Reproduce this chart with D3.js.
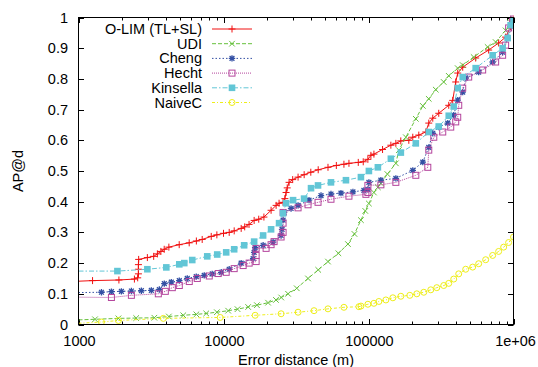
<!DOCTYPE html>
<html>
<head>
<meta charset="utf-8">
<script src="https://cdn.jsdelivr.net/npm/d3@7"></script>
<style>
  html, body { margin: 0; padding: 0; background: #fff; }
  svg { display: block; font-family: "Liberation Sans", Arial, Helvetica, sans-serif; }
</style>
</head>
<body>
<div id="chart"></div>
<script>
const width = 538;
const height = 367;

// Axis ticks
const xTicks = [1000, 10000, 100000, 1000000];
const xTickLabels = ["1000", "10000", "100000", "1e+06"];
const yTicks = [0, 0.1, 0.2, 0.3, 0.4, 0.5, 0.6, 0.7, 0.8, 0.9, 1];
const yTickLabels = ["0", "0.1", "0.2", "0.3", "0.4", "0.5", "0.6", "0.7", "0.8", "0.9", "1"];

const seriesNames = ["O-LIM (TL+SL)", "UDI", "Cheng", "Hecht", "Kinsella", "NaiveC"];

// O-LIM (TL+SL)
const olimDist = [1000, 1250, 1900, 2430, 2560, 2590, 2590, 2590, 2600, 2985, 3300, 3500, 3700, 3900,
    4200, 4950, 5800, 6500, 7130, 8230, 9000, 10000, 10950, 11850, 13240, 14000, 15000, 16270, 17500,
    19000, 21290, 23060, 24170, 25760, 26500, 27010, 27500, 28330, 30000, 32680, 36000, 40000, 45000,
    52560, 60000, 67700, 73310, 85000, 92000, 99000, 103900, 109000, 125000, 142650, 154400, 167000,
    189700, 202000, 222300, 248300, 260400, 277500, 305100, 357600, 381000, 399500, 412400, 446400,
    548500, 674100, 789900, 882300, 955000, 1000000];
const olimAP = [0.141, 0.143, 0.145, 0.148, 0.152, 0.165, 0.18, 0.195, 0.212, 0.218, 0.222, 0.23, 0.238, 0.245,
    0.252, 0.26, 0.266, 0.272, 0.277, 0.287, 0.292, 0.297, 0.30, 0.305, 0.313, 0.318, 0.326, 0.339, 0.343,
    0.35, 0.372, 0.388, 0.395, 0.398, 0.41, 0.43, 0.445, 0.463, 0.472, 0.48, 0.488, 0.496, 0.504,
    0.512, 0.518, 0.522, 0.525, 0.528, 0.53, 0.538, 0.551, 0.555, 0.57, 0.584, 0.59, 0.598,
    0.60, 0.61, 0.617, 0.627, 0.656, 0.672, 0.688, 0.714, 0.73, 0.79, 0.819, 0.838,
    0.868, 0.894, 0.917, 0.936, 0.97, 0.995];

// UDI
const udiDist = [1000, 1300, 1885, 2500, 3335, 4200, 5280, 6500, 7600, 9000, 10770, 12500, 14790, 17000,
    20300, 23000, 25000, 27880, 32000, 38280, 45000, 52560, 62000, 72150, 80000, 88660, 95000, 100600,
    108900, 116000, 121700, 135000, 154400, 162000, 181000, 212000, 237000, 260400, 291000, 330000,
    357600, 412400, 446400, 531400, 663400, 753000, 882300, 955000, 1000000];
const udiAP = [0.015, 0.017, 0.02, 0.021, 0.022, 0.026, 0.03, 0.033, 0.036, 0.04, 0.045, 0.05, 0.057, 0.063,
    0.071, 0.08, 0.088, 0.10, 0.118, 0.15, 0.178, 0.205, 0.232, 0.262, 0.295, 0.34, 0.37, 0.394,
    0.43, 0.447, 0.46, 0.49, 0.525, 0.568, 0.61, 0.67, 0.712, 0.735, 0.765, 0.79,
    0.81, 0.835, 0.845, 0.871, 0.904, 0.92, 0.958, 0.985, 0.995];

// Cheng
const chengDist = [1000, 1440, 1687, 1976, 2316, 2714, 3180, 3610, 3907, 4365, 4956, 5626, 6490, 7366,
    8360, 9643, 10946, 13236, 16010, 16268, 16529, 18760, 21980, 24960, 25350, 25760, 26170, 29240,
    32680, 38890, 47040, 55110, 64570, 78100, 92970, 99060, 100640, 121730, 154400, 202050, 236800,
    260400, 277530, 305100, 351980, 387110, 412420, 446400, 468180, 575250, 718270, 841400, 910760,
    985800, 1000000];
const chengAP = [0.104, 0.105, 0.107, 0.108, 0.109, 0.11, 0.111, 0.114, 0.133, 0.138, 0.143, 0.15, 0.156, 0.16,
    0.165, 0.17, 0.18, 0.2, 0.215, 0.235, 0.25, 0.258, 0.268, 0.29, 0.31, 0.34, 0.365, 0.378,
    0.388, 0.405, 0.42, 0.425, 0.428, 0.432, 0.437, 0.44, 0.463, 0.47, 0.476, 0.502, 0.529,
    0.577, 0.623, 0.643, 0.656, 0.682, 0.731, 0.757, 0.803, 0.822, 0.855, 0.887, 0.933,
    0.975, 0.99];

// Hecht
const hechtDist = [1000, 1687, 2316, 3553, 3970, 4436, 4956, 5806, 6592, 7973, 9194, 10437, 11847, 13663,
    15030, 16790, 16790, 16790, 19670, 21290, 22330, 24960, 25760, 25760, 25760, 32680, 38280, 44860,
    55110, 73310, 95960, 99060, 99060, 121730, 154400, 211950, 256390, 260400, 281980, 325100, 369130,
    399540, 412420, 419040, 446400, 490900, 612800, 753000, 841400, 882300, 925310, 985800, 1000000];
const hechtAP = [0.089, 0.088, 0.095, 0.1, 0.108, 0.12, 0.127, 0.14, 0.15, 0.158, 0.166, 0.17, 0.182, 0.192,
    0.2, 0.205, 0.225, 0.248, 0.248, 0.26, 0.27, 0.285, 0.3, 0.33, 0.365, 0.38, 0.39, 0.398,
    0.408, 0.418, 0.424, 0.43, 0.453, 0.455, 0.463, 0.486, 0.512, 0.568, 0.61, 0.627, 0.643,
    0.66, 0.675, 0.714, 0.77, 0.806, 0.829, 0.855, 0.877, 0.91, 0.966, 0.99, 0.995];

// Kinsella
const kinsellaDist = [1000, 1855, 2985, 4033, 4956, 5365, 6088, 7725, 9051, 10437, 11847, 13881, 16268, 18760,
    21290, 24170, 25760, 27010, 30180, 35940, 40140, 44860, 55110, 69900, 88660, 100640, 116050,
    142650, 167120, 211950, 260400, 305100, 357600, 387110, 412420, 446400, 548500, 718270, 841400,
    910760, 955000, 1000000];
const kinsellaAP = [0.174, 0.174, 0.18, 0.186, 0.196, 0.2, 0.21, 0.222, 0.228, 0.235, 0.245, 0.258, 0.27, 0.29,
    0.31, 0.33, 0.362, 0.395, 0.405, 0.41, 0.444, 0.453, 0.463, 0.47, 0.48, 0.5, 0.512,
    0.54, 0.56, 0.59, 0.627, 0.645, 0.68, 0.71, 0.77, 0.806, 0.835, 0.877, 0.9,
    0.933, 0.975, 0.99];

// NaiveC
const naiveDist = [1000, 1440, 1885, 3846, 9490, 16529, 24960, 32680, 42100, 52560, 67700, 85900, 88660,
    99060, 108940, 117920, 131800, 147240, 167120, 192670, 215400, 240630, 268870, 295710, 330330,
    357600, 387110, 419040, 468180, 522990, 575250, 642680, 718270, 789920, 855080, 925310, 1000000];
const naiveAP = [0.004, 0.008, 0.013, 0.02, 0.023, 0.03, 0.035, 0.04, 0.045, 0.051, 0.056, 0.058, 0.06,
    0.066, 0.069, 0.075, 0.08, 0.087, 0.092, 0.095, 0.1, 0.105, 0.113, 0.12, 0.127,
    0.134, 0.148, 0.165, 0.18, 0.187, 0.198, 0.211, 0.225, 0.238, 0.252, 0.267, 0.285];

const margin = {left: 78.5, right: 513.5, top: 17.5, bottom: 324.5};

/**
 * Marker shapes, drawn around (0,0)
 */
const markers = {
    plus: (g, c) => g.append("path").attr("d", "M-3.5,0H3.5M0,-3.5V3.5")
        .attr("stroke", c).attr("fill", "none"),
    cross: (g, c) => g.append("path").attr("d", "M-2.8,-2.8L2.8,2.8M-2.8,2.8L2.8,-2.8")
        .attr("stroke", c).attr("fill", "none"),
    star: (g, c) => g.append("path")
        .attr("d", "M-3.2,0H3.2M0,-3.2V3.2M-2.4,-2.4L2.4,2.4M-2.4,2.4L2.4,-2.4")
        .attr("stroke", c).attr("stroke-width", 1.3).attr("fill", "none"),
    squareOpen: (g, c) => g.append("rect").attr("x", -3).attr("y", -3)
        .attr("width", 6).attr("height", 6).attr("stroke", c).attr("fill", "none"),
    squareFilled: (g, c) => g.append("rect").attr("x", -3.3).attr("y", -3.3)
        .attr("width", 6.6).attr("height", 6.6).attr("fill", c),
    circleOpen: (g, c) => g.append("circle").attr("r", 3)
        .attr("stroke", c).attr("fill", "none")
};

const series = [
    {name: seriesNames[0], dist: olimDist, ap: olimAP, color: "#f01010", dash: null, marker: "plus"},
    {name: seriesNames[1], dist: udiDist, ap: udiAP, color: "#66c03c", dash: "4,2", marker: "cross"},
    {name: seriesNames[2], dist: chengDist, ap: chengAP, color: "#3450a4", dash: "1.5,2", marker: "star"},
    {name: seriesNames[3], dist: hechtDist, ap: hechtAP, color: "#b4449c", dash: "1,1", marker: "squareOpen"},
    {name: seriesNames[4], dist: kinsellaDist, ap: kinsellaAP, color: "#62c6d6", dash: "5,2,1.5,2", marker: "squareFilled"},
    {name: seriesNames[5], dist: naiveDist, ap: naiveAP, color: "#eeee1a", dash: "3,2,1,2", marker: "circleOpen"}
];

const x = d3.scaleLog().domain([1000, 1000000]).range([margin.left, margin.right]);
const y = d3.scaleLinear().domain([0, 1]).range([margin.bottom, margin.top]);

const svg = d3.select("#chart").append("svg")
    .attr("width", width)
    .attr("height", height);

svg.append("rect").attr("width", width).attr("height", height).attr("fill", "#fff");

svg.append("clipPath").attr("id", "plotclip")
    .append("rect")
        .attr("x", margin.left).attr("y", margin.top - 4)
        .attr("width", margin.right - margin.left)
        .attr("height", margin.bottom - margin.top + 4);

// Ticks, mirrored on all four sides like gnuplot
const ticks = svg.append("g").attr("stroke", "#000").attr("stroke-width", 1);
const minorX = [];
for (let p = 1000; p < 1000000; p *= 10) {
    for (let k = 2; k <= 9; k++) minorX.push(k * p);
}
minorX.forEach(v => {
    const px = Math.round(x(v)) + 0.5;
    ticks.append("line").attr("x1", px).attr("x2", px)
        .attr("y1", margin.bottom).attr("y2", margin.bottom - 3);
    ticks.append("line").attr("x1", px).attr("x2", px)
        .attr("y1", margin.top).attr("y2", margin.top + 3);
});
xTicks.forEach(v => {
    const px = Math.round(x(v)) + 0.5;
    ticks.append("line").attr("x1", px).attr("x2", px)
        .attr("y1", margin.bottom).attr("y2", margin.bottom - 5.5);
    ticks.append("line").attr("x1", px).attr("x2", px)
        .attr("y1", margin.top).attr("y2", margin.top + 5.5);
});
yTicks.forEach(v => {
    const py = Math.round(y(v)) + 0.5;
    ticks.append("line").attr("x1", margin.left).attr("x2", margin.left + 5.5)
        .attr("y1", py).attr("y2", py);
    ticks.append("line").attr("x1", margin.right).attr("x2", margin.right - 5.5)
        .attr("y1", py).attr("y2", py);
});

// Tick labels
const labels = svg.append("g").attr("font-size", 14.5).attr("fill", "#000");
yTicks.forEach((v, i) => {
    labels.append("text")
        .attr("x", 68).attr("y", y(v))
        .attr("dy", "0.35em")
        .attr("text-anchor", "end")
        .text(yTickLabels[i]);
});
xTicks.forEach((v, i) => {
    labels.append("text")
        .attr("x", x(v) + (i == xTicks.length - 1 ? 2 : 1)).attr("y", 346)
        .attr("text-anchor", "middle")
        .text(xTickLabels[i]);
});

// Axis titles
svg.append("text")
    .attr("x", (margin.left + margin.right) / 2).attr("y", 365)
    .attr("text-anchor", "middle")
    .attr("font-size", 14.5)
    .text("Error distance (m)");
svg.append("text")
    .attr("transform", "translate(23," + ((margin.top + margin.bottom) / 2) + ") rotate(-90)")
    .attr("text-anchor", "middle")
    .attr("font-size", 14.5)
    .text("AP@d");

// Curves
const plot = svg.append("g").attr("clip-path", "url(#plotclip)");
const line = d3.line().x(d => x(d.d)).y(d => y(d.ap));

series.forEach(s => {
    const pts = s.dist.map((d, i) => ({d: d, ap: s.ap[i]}));
    const g = plot.append("g");
    g.append("path")
        .datum(pts)
        .attr("d", line)
        .attr("fill", "none")
        .attr("stroke", s.color)
        .attr("stroke-width", 1)
        .attr("stroke-dasharray", s.dash);
    pts.filter(p => p.d > 1000).forEach(p => {
        const m = g.append("g").attr("transform", "translate(" + x(p.d) + "," + y(p.ap) + ")");
        markers[s.marker](m, s.color);
    });
});

// Legend
const legend = svg.append("g");
series.forEach((s, i) => {
    const ly = 29 + i * 14.7;
    legend.append("text")
        .attr("x", 202).attr("y", ly)
        .attr("dy", "0.35em")
        .attr("text-anchor", "end")
        .attr("font-size", 14.5)
        .text(s.name);
    legend.append("line")
        .attr("x1", 212).attr("x2", 252)
        .attr("y1", ly).attr("y2", ly)
        .attr("stroke", s.color)
        .attr("stroke-dasharray", s.dash);
    const m = legend.append("g").attr("transform", "translate(232," + ly + ")");
    markers[s.marker](m, s.color);
});

// Border
svg.append("rect")
    .attr("x", margin.left).attr("y", margin.top)
    .attr("width", margin.right - margin.left)
    .attr("height", margin.bottom - margin.top)
    .attr("fill", "none")
    .attr("stroke", "#000")
    .attr("stroke-width", 1);
</script>
</body>
</html>
